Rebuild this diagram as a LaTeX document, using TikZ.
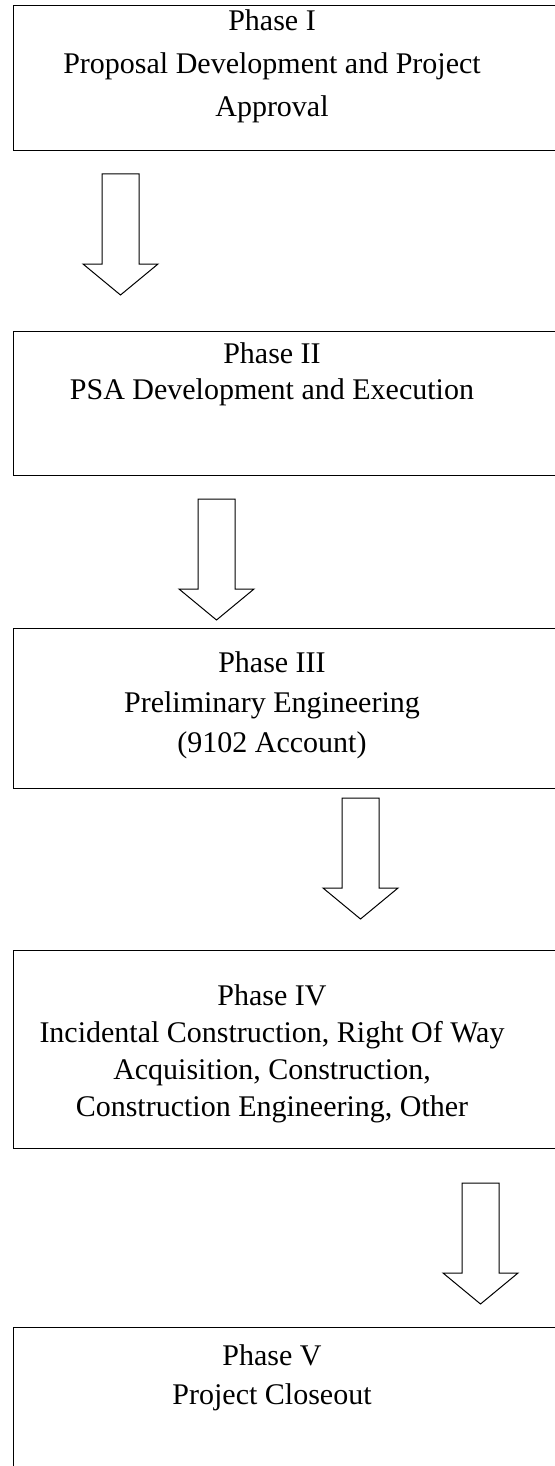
\documentclass[tikz,border=0pt]{standalone}
\usepackage{fontspec}
\setmainfont{Liberation Serif}
\usepackage{tikz}

\tikzset{
  phasebox/.style={draw, line width=1.3pt, minimum width=560pt, anchor=north west, inner sep=0pt},
  phasetext/.style={align=center, anchor=north, inner sep=0pt},
  blockarrow/.style={draw, line width=1pt, line join=miter}
}

\begin{document}
\begin{tikzpicture}[x=1pt,y=-1pt]
\useasboundingbox (0,0) rectangle (554,1466);
% phase boxes
\node [phasebox, minimum height=145pt] (box1) at (12.7,5) {};
\node [phasebox, minimum height=144pt] (box2) at (12.7,331) {};
\node [phasebox, minimum height=160pt] (box3) at (12.7,628) {};
\node [phasebox, minimum height=198pt] (box4) at (12.7,950) {};
\node [phasebox, minimum height=160pt] (box5) at (12.7,1327) {};
% texts
\node [phasetext, font=\fontsize{30}{43}\selectfont] (txt1) at (272,9) {Phase I\\Proposal Development and Project\\Approval};
\node [phasetext, font=\fontsize{30}{36}\selectfont] (txt2) at (272,342) {Phase II\\PSA Development and Execution};
\node [phasetext, font=\fontsize{30}{40}\selectfont] (txt3) at (272,651) {Phase III\\Preliminary Engineering\\(9102 Account)};
\node [phasetext, font=\fontsize{30}{37}\selectfont] (txt4) at (272,984) {Phase IV\\Incidental Construction, Right Of Way\\Acquisition, Construction,\\Construction Engineering, Other};
\node [phasetext, font=\fontsize{30}{39}\selectfont] (txt5) at (272,1344) {Phase V\\Project Closeout};
% block arrows
\foreach \cx/\ty in {120.5/174, 216.5/499, 360.5/798, 480.5/1183}
  \draw [blockarrow] (\cx-18.5,\ty) -- (\cx+18.5,\ty) -- (\cx+18.5,\ty+90) -- (\cx+37.5,\ty+90)
    -- (\cx,\ty+121) -- (\cx-37.5,\ty+90) -- (\cx-18.5,\ty+90) -- cycle;
\end{tikzpicture}
\end{document}
